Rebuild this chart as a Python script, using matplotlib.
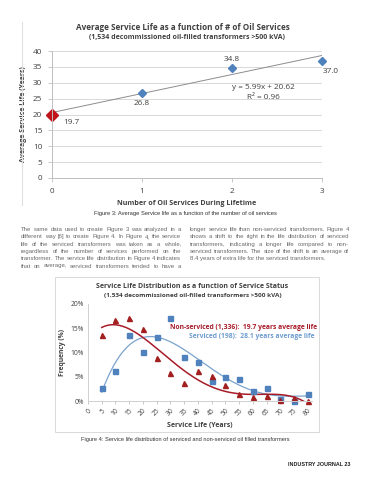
import numpy as np
import matplotlib
matplotlib.use("Agg")
import matplotlib.pyplot as plt

# ---------------- data ----------------
# Figure 3: average service life vs number of oil services
n_services = [0, 1, 2, 3]
avg_life = [19.7, 26.8, 34.8, 37.0]
trend_slope, trend_icpt = 5.99, 20.62

# Figure 4: service life distribution (%)
life_years = [5, 10, 15, 20, 25, 30, 35, 40, 45, 50, 55, 60, 65, 70, 75, 80]
non_serviced = [13.7, 16.6, 17.1, 14.8, 8.8, 5.7, 3.8, 6.1, 5.1, 3.4, 1.5, 0.8, 1.0, 0.3, 0.6, 0.1]
serviced = [2.6, 6.1, 13.7, 10.1, 13.1, 17.1, 9.1, 8.1, 4.1, 5.0, 4.6, 2.0, 2.6, 0.5, 0.1, 1.5]
cat_labels = [str(v) for v in range(0, 85, 5)]

body_left = [
    "The same data used to create Figure 3 was analyzed in a",
    "different way [6] to create Figure 4. In Figure 4, the service",
    "life of the serviced transformers was taken as a whole,",
    "regardless of the number of services performed on the",
    "transformer. The service life distribution in Figure 4 indicates",
    "that on average, serviced transformers tended to have a",
]
body_right = [
    "longer service life than non-serviced transformers. Figure 4",
    "shows a shift to the right in the life distribution of serviced",
    "transformers, indicating a longer life compared to non-",
    "serviced transformers. The size of the shift is an average of",
    "8.4 years of extra life for the serviced transformers.",
]

# ---------------- styles ----------------
W, H = 370, 480
CHART_FONT = ["Open Sans", "DejaVu Sans"]
PAGE_FONT = ["Liberation Sans", "DejaVu Sans"]
GRID = "#d9d9d9"
TXT = "#404040"
RED = "#a32020"
RED_LINE = "#a81c2a"
BLUE = "#4f81bd"
BLUE_LINE = "#7ba3cc"


def px(x, y):
    return x / W, 1 - y / H


def box(x0, y0, x1, y1):
    return [x0 / W, 1 - y1 / H, (x1 - x0) / W, (y1 - y0) / H]


fig = plt.figure(figsize=(W / 100, H / 100), dpi=100)
fig.patch.set_facecolor("white")
renderer = fig.canvas.get_renderer()


def justified(lines, x0, x1, y0, step, justify_last, **kw):
    # spread the words of each line over the column width
    for i, line in enumerate(lines):
        y = y0 + i * step
        words = line.split()
        if i == len(lines) - 1 and not justify_last:
            fig.text(*px(x0, y), line, ha="left", va="baseline", **kw)
            continue
        widths = []
        for w in words:
            t = fig.text(0, 0, w, **kw)
            widths.append(t.get_window_extent(renderer).width)
            t.remove()
        gap = (x1 - x0 - sum(widths)) / (len(words) - 1)
        x = x0
        for w, wd in zip(words, widths):
            fig.text(*px(x, y), w, ha="left", va="baseline", **kw)
            x += wd + gap


# ---------------- Figure 3 ----------------
fig.add_artist(plt.Line2D([22 / W, 22 / W], [1 - 22 / H, 1 - 205 / H],
                          color="#e0e0e0", lw=0.8))

ax1 = fig.add_axes(box(52, 51, 322, 178))
ax1.set_xlim(0, 3)
ax1.set_ylim(0, 40)
ax1.set_yticks(range(0, 45, 5))
ax1.set_xticks(n_services)
ax1.yaxis.grid(True, color=GRID, lw=0.7)
ax1.set_axisbelow(True)
for s in ["top", "right"]:
    ax1.spines[s].set_visible(False)
for s in ["left", "bottom"]:
    ax1.spines[s].set_color("#bfbfbf")
    ax1.spines[s].set_linewidth(0.7)
ax1.tick_params(length=3, width=0.6, color="#bfbfbf", labelsize=5.9,
                labelcolor=TXT, pad=4)
for lab in ax1.get_xticklabels() + ax1.get_yticklabels():
    lab.set_family(CHART_FONT)

xs = np.array([0, 3])
ax1.plot(xs, trend_slope * xs + trend_icpt, color="#8c8c8c", lw=0.7)
ax1.plot(n_services[1:], avg_life[1:], "D", color=BLUE, ms=4.5, clip_on=False)
ax1.plot(n_services[:1], avg_life[:1], "D", color="#c0141c", ms=5.8, clip_on=False)

lab_off = [(0.12, -2.2, "left"), (0, -3.3, "center"), (0, 2.6, "center"), (0.1, -3.6, "center")]
for x, y, (dx, dy, ha) in zip(n_services, avg_life, lab_off):
    ax1.text(x + dx, y + dy, f"{y:.1f}", ha=ha, va="center", fontsize=5.9,
             color=TXT, family=CHART_FONT, clip_on=False)
ax1.text(2.35, 28.4, f"y = {trend_slope}x + {trend_icpt}", ha="center", va="center",
         fontsize=5.9, color=TXT, family=CHART_FONT)
ax1.text(2.35, 25.4, "R² = 0.96", ha="center", va="center",
         fontsize=5.9, color=TXT, family=CHART_FONT)

ax1.set_ylabel("Average Service Life (Years)", fontsize=5.0, fontweight="bold",
               color=TXT, family=CHART_FONT, labelpad=4)
ax1.set_xlabel("Number of Oil Services During Lifetime", fontsize=5.1,
               fontweight="bold", color=TXT, family=CHART_FONT, labelpad=4)

fig.text(*px(183, 27), "Average Service Life as a function of # of Oil Services",
         ha="center", va="center", fontsize=5.85, fontweight="bold",
         color=TXT, family=CHART_FONT)
fig.text(*px(187, 38), "(1,534 decommissioned oil-filled transformers >500 kVA)",
         ha="center", va="center", fontsize=5.0, fontweight="bold",
         color=TXT, family=CHART_FONT)
fig.text(*px(185, 214), "Figure 3: Average Service life as a function of the number of oil services",
         ha="center", va="center", fontsize=4.15, color="#303030", family=PAGE_FONT)

# ---------------- body text ----------------
body_kw = dict(fontsize=4.3, color="#6a6a6a", family=PAGE_FONT)
justified(body_left, 21, 181, 231, 7.3, True, **body_kw)
justified(body_right, 190, 349, 231, 7.3, False, **body_kw)

# ---------------- Figure 4 ----------------
fig.add_artist(plt.Rectangle((55 / W, 1 - 432 / H), (319 - 55) / W, (432 - 277) / H,
                             fill=False, ec="#d9d9d9", lw=0.7))

ax2 = fig.add_axes(box(88, 304, 312, 401))
ax2.set_xlim(0, 81.5)
ax2.set_ylim(0, 20)
ax2.set_yticks([0, 5, 10, 15, 20])
ax2.set_yticklabels([f"{v}%" for v in [0, 5, 10, 15, 20]])
ax2.set_xticks(range(0, 85, 5))
ax2.set_xticklabels(cat_labels, rotation=45, ha="right", rotation_mode="anchor")
for s in ["top", "right"]:
    ax2.spines[s].set_visible(False)
for s in ["left", "bottom"]:
    ax2.spines[s].set_color("#cfcfcf")
    ax2.spines[s].set_linewidth(0.7)
ax2.tick_params(axis="y", length=0, labelsize=4.9, labelcolor=TXT, pad=3)
ax2.tick_params(axis="x", length=2.5, width=0.6, color="#bfbfbf", labelsize=4.9,
                labelcolor=TXT, pad=2)
for lab in ax2.get_xticklabels() + ax2.get_yticklabels():
    lab.set_family(CHART_FONT)

# polynomial trend lines fitted to each series
xf = np.linspace(5, 80, 200)
red_fit = np.polyval(np.polyfit(life_years, non_serviced, 4), xf)
blue_fit = np.polyval(np.polyfit(life_years, serviced, 4), xf)
ax2.plot(xf, blue_fit, color=BLUE_LINE, lw=0.9)
ax2.plot(xf, red_fit, color=RED_LINE, lw=1.1)
ax2.plot(life_years, serviced, "s", color=BLUE, ms=3.6, clip_on=False)
ax2.plot(life_years, non_serviced, "^", color=RED, ms=3.6, clip_on=False)

ax2.text(83.3, 15.2, "Non-serviced (1,336):  19.7 years average life", ha="right",
         va="center", fontsize=4.85, fontweight="bold", color=RED_LINE, family=CHART_FONT)
ax2.text(82.5, 13.2, "Serviced (198):  28.1 years average life", ha="right",
         va="center", fontsize=4.85, fontweight="bold", color="#6f9cd0", family=CHART_FONT)

ax2.set_ylabel("Frequency (%)", fontsize=4.9, fontweight="bold", color=TXT,
               family=CHART_FONT, labelpad=3)
ax2.set_xlabel("Service Life (Years)", fontsize=5.0, fontweight="bold", color=TXT,
               family=CHART_FONT, labelpad=3)

fig.text(*px(192, 286), "Service Life Distribution as a function of Service Status",
         ha="center", va="center", fontsize=5.05, fontweight="bold",
         color=TXT, family=CHART_FONT)
fig.text(*px(193, 295.5), "(1,534 decommissioned oil-filled transformers >500 kVA)",
         ha="center", va="center", fontsize=4.6, fontweight="bold",
         color=TXT, family=CHART_FONT)
fig.text(*px(185, 439), "Figure 4: Service life distribution of serviced and non-serviced oil filled transformers",
         ha="center", va="center", fontsize=4.1, color="#303030", family=PAGE_FONT)

fig.text(*px(350, 465), "INDUSTRY JOURNAL 23", ha="right", va="center",
         fontsize=3.9, fontweight="bold", color="#202020", family=PAGE_FONT)

fig.savefig("out.png", dpi=100)
